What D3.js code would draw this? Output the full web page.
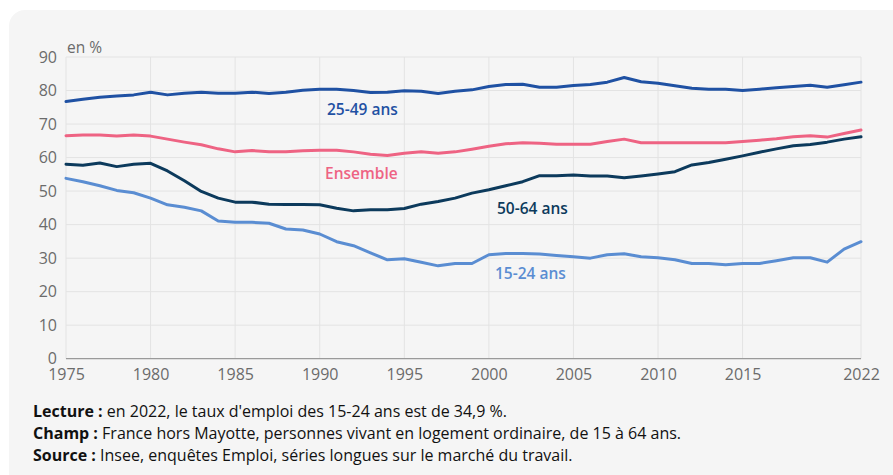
<!DOCTYPE html>
<html><head><meta charset="utf-8">
<script src="https://cdn.jsdelivr.net/npm/d3@7"></script>
<style>
html,body{margin:0;padding:0;background:#fff;}
svg{display:block;font-family:"Open Sans",sans-serif;}
</style></head>
<body><svg id="c" width="893" height="475"></svg>
<script>
const years = d3.range(1975, 2023);
const s2549 = [76.7,77.4,78.0,78.4,78.7,79.5,78.7,79.2,79.5,79.2,79.2,79.5,79.1,79.5,80.1,80.4,80.4,80.0,79.4,79.5,79.9,79.8,79.1,79.8,80.2,81.2,81.8,81.9,81.0,81.0,81.5,81.8,82.5,83.9,82.6,82.2,81.4,80.7,80.4,80.4,80.0,80.4,80.8,81.2,81.6,81.0,81.7,82.5];
const sEns = [66.5,66.7,66.7,66.4,66.7,66.4,65.5,64.6,63.8,62.6,61.7,62.1,61.7,61.7,62.0,62.2,62.2,61.7,61.0,60.6,61.3,61.7,61.3,61.7,62.5,63.4,64.1,64.4,64.3,64.0,64.0,64.0,64.8,65.5,64.4,64.4,64.4,64.4,64.4,64.4,64.8,65.2,65.6,66.2,66.5,66.1,67.2,68.2];
const s5064 = [58.0,57.7,58.4,57.3,58.0,58.3,56.0,53.1,49.9,47.9,46.7,46.7,46.1,46.0,46.0,45.9,44.9,44.1,44.4,44.4,44.8,46.1,46.9,47.9,49.4,50.4,51.6,52.8,54.6,54.6,54.8,54.5,54.5,54.0,54.5,55.1,55.8,57.8,58.5,59.5,60.5,61.6,62.6,63.5,63.9,64.6,65.5,66.2];
const s1524 = [53.8,52.8,51.6,50.2,49.5,47.9,45.9,45.2,44.1,41.1,40.7,40.7,40.4,38.7,38.4,37.2,34.9,33.7,31.6,29.5,29.8,28.8,27.7,28.4,28.4,31.0,31.4,31.4,31.2,30.8,30.4,30.0,31.0,31.3,30.4,30.1,29.5,28.4,28.4,28.0,28.4,28.4,29.2,30.1,30.1,28.8,32.7,34.9];
const xTicks = [1975,1980,1985,1990,1995,2000,2005,2010,2015,2022];
const yTicks = [0,10,20,30,40,50,60,70,80,90];
const seriesNames = ["25-49 ans","Ensemble","50-64 ans","15-24 ans"];
const notes = [
 ["Lecture :"," en 2022, le taux d'emploi des 15-24 ans est de 34,9 %."],
 ["Champ :"," France hors Mayotte, personnes vivant en logement ordinaire, de 15 à 64 ans."],
 ["Source :"," Insee, enquêtes Emploi, séries longues sur le marché du travail."]
];

const svg = d3.select("#c");
svg.append("rect").attr("x",9).attr("y",10).attr("width",900).attr("height",480).attr("rx",16).attr("fill","#f5f5f5");

const x = d3.scaleLinear().domain([1975,2022]).range([66,861]);
const y = d3.scaleLinear().domain([0,90]).range([358.7,57]);

const g = svg.append("g");
g.selectAll(".hg").data(yTicks.filter(d=>d>0)).join("line")
  .attr("x1",x(1975)).attr("x2",x(2022)).attr("y1",d=>y(d)).attr("y2",d=>y(d))
  .attr("stroke","#e3e3e3").attr("stroke-width",1);
g.selectAll(".vg").data(xTicks).join("line")
  .attr("x1",d=>x(d)).attr("x2",d=>x(d)).attr("y1",y(90)).attr("y2",y(0))
  .attr("stroke","#e3e3e3").attr("stroke-width",1);
g.append("line").attr("x1",x(1975)).attr("x2",x(2022)).attr("y1",y(0)).attr("y2",y(0))
  .attr("stroke","#9a9a9a").attr("stroke-width",1.2);

const yAxis = d3.axisLeft(y).tickValues(yTicks).tickSize(0).tickPadding(9);
const ya = svg.append("g").attr("transform",`translate(${x(1975)},0)`).call(yAxis);
ya.select(".domain").remove();
ya.selectAll("text").attr("font-size",16).attr("fill","#6b6b6b").attr("font-family","Open Sans");
const xAxis = d3.axisBottom(x).tickValues(xTicks).tickFormat(d3.format("d")).tickSize(0).tickPadding(10);
const xa = svg.append("g").attr("transform",`translate(0,${y(0)})`).call(xAxis);
xa.select(".domain").remove();
xa.selectAll("text").attr("font-size",16).attr("fill","#6b6b6b").attr("font-family","Open Sans");

svg.append("text").attr("x",67).attr("y",53).attr("font-size",15.5).attr("fill","#6b6b6b").text("en %");

const series = [
 {name:seriesNames[0], v:s2549, c:"#1f51a3", lx:327, ly:115, lc:"#1f51a3"},
 {name:seriesNames[1], v:sEns, c:"#ee6383", lx:325, ly:179, lc:"#ee6383"},
 {name:seriesNames[2], v:s5064, c:"#0c3a5c", lx:497, ly:214, lc:"#0c3a5c"},
 {name:seriesNames[3], v:s1524, c:"#5a8dd2", lx:495, ly:279, lc:"#5a8dd2"}
];
const line = d3.line().x((d,i)=>x(years[i])).y(d=>y(d));
series.forEach(s=>{
  svg.append("path").attr("d",line(s.v)).attr("fill","none").attr("stroke",s.c)
    .attr("stroke-width",3).attr("stroke-linejoin","round").attr("stroke-linecap","round");
  svg.append("text").attr("x",s.lx).attr("y",s.ly).attr("font-size",15.5).attr("font-weight",600)
    .attr("fill",s.lc).text(s.name);
});

notes.forEach((n,i)=>{
  const t = svg.append("text").attr("x",33).attr("y",417+i*22).attr("font-size",16).attr("fill","#111");
  t.append("tspan").attr("font-weight",700).text(n[0]);
  t.append("tspan").text(n[1]);
});
</script></body></html>
